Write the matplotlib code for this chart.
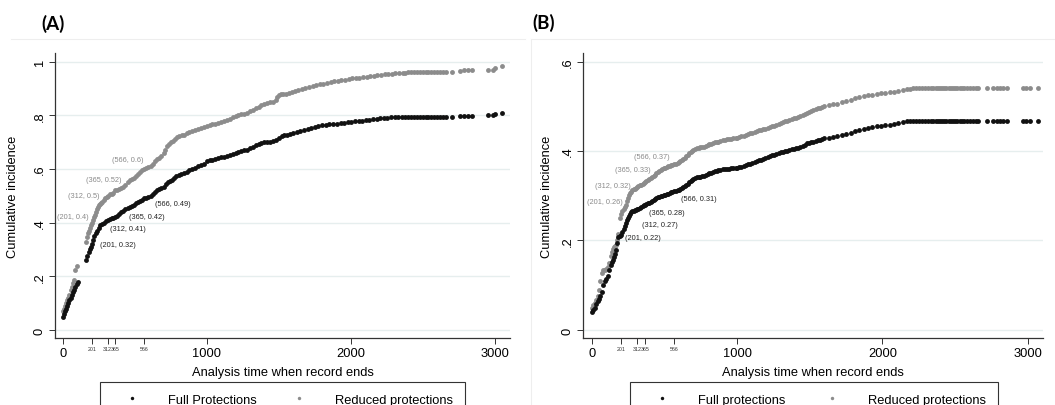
import matplotlib
matplotlib.use("Agg")
import matplotlib.pyplot as plt
from matplotlib.lines import Line2D

plt.rcParams['font.family'] = ['Liberation Sans', 'DejaVu Sans']

# ---- Panel A data ----
a_full_x = [5, 10, 15, 22, 30, 38, 45, 55, 62, 72, 80, 88, 98, 105,
            165, 172, 180, 188, 195, 201, 210, 220, 230, 240, 250, 262, 275, 290, 300, 312,
            325, 340, 352, 365, 378, 392, 405, 420, 435, 450, 465, 480, 495, 510, 525, 540,
            553, 566, 580, 595, 610, 625, 640, 655, 670, 685, 700, 715, 730, 745, 757, 772,
            788, 805, 820, 840, 860, 880, 900, 920, 940, 960, 980, 1000, 1020, 1040, 1060,
            1080, 1100, 1120, 1140, 1160, 1180, 1200, 1220, 1240, 1260, 1280, 1300, 1320,
            1340, 1360, 1380, 1400, 1420, 1440, 1460, 1480, 1500, 1520, 1540, 1560, 1580,
            1600, 1625, 1650, 1675, 1700, 1725, 1750, 1775, 1800, 1825, 1850, 1880, 1905,
            1930, 1955, 1980, 2005, 2030, 2055, 2080, 2105, 2130, 2155, 2180, 2205, 2230,
            2255, 2280, 2305, 2330, 2355, 2380, 2400, 2420, 2440, 2460, 2480, 2500, 2520,
            2540, 2560, 2580, 2600, 2620, 2640, 2660, 2700, 2760, 2790, 2815, 2840,
            2955, 2985, 3000, 3050]
a_full_y = [0.05, 0.06, 0.07, 0.08, 0.09, 0.10, 0.11, 0.12, 0.13, 0.14, 0.15, 0.16, 0.17, 0.18,
            0.262, 0.275, 0.29, 0.30, 0.31, 0.32, 0.335, 0.35, 0.36, 0.37, 0.38, 0.39, 0.395, 0.40, 0.405, 0.41,
            0.413, 0.416, 0.418, 0.42, 0.425, 0.432, 0.44, 0.445, 0.45, 0.455, 0.46, 0.463, 0.467, 0.472, 0.476, 0.48,
            0.485, 0.49, 0.493, 0.497, 0.50, 0.507, 0.515, 0.522, 0.525, 0.528, 0.533, 0.545, 0.552, 0.556, 0.56, 0.566,
            0.572, 0.576, 0.58, 0.586, 0.59, 0.595, 0.60, 0.605, 0.61, 0.615, 0.62, 0.63, 0.632, 0.634, 0.636,
            0.64, 0.643, 0.646, 0.65, 0.653, 0.656, 0.66, 0.663, 0.666, 0.669, 0.672, 0.677, 0.683,
            0.69, 0.694, 0.697, 0.70, 0.701, 0.702, 0.704, 0.708, 0.715, 0.722, 0.726, 0.728, 0.73,
            0.733, 0.737, 0.741, 0.745, 0.749, 0.753, 0.757, 0.76, 0.762, 0.764, 0.766, 0.768, 0.769,
            0.77, 0.772, 0.774, 0.776, 0.777, 0.778, 0.779, 0.781, 0.783, 0.785, 0.787, 0.789, 0.79,
            0.791, 0.792, 0.793, 0.793, 0.794, 0.794, 0.795, 0.795, 0.795, 0.795, 0.795, 0.795, 0.795,
            0.795, 0.795, 0.795, 0.795, 0.795, 0.795, 0.795, 0.795, 0.797, 0.798, 0.798, 0.798,
            0.80, 0.80, 0.803, 0.81]

a_red_x = [5, 10, 15, 22, 30, 38, 45, 55, 62, 70, 80, 88, 97,
           160, 167, 174, 181, 188, 195, 201, 208, 215, 223, 230, 238, 245, 253, 260, 268, 275, 285,
           295, 305, 312, 325, 340, 352, 365, 378, 392, 405, 420, 435, 450, 465, 480, 495, 510,
           525, 540, 553, 566, 580, 595, 610, 625, 640, 655, 670, 685, 700, 712, 725, 738, 750,
           765, 780, 795, 810, 825, 840, 860, 880, 900, 920, 940, 960, 980, 1000, 1020, 1040,
           1060, 1080, 1100, 1120, 1140, 1160, 1180, 1200, 1220, 1240, 1260, 1280, 1300, 1320,
           1340, 1360, 1380, 1400, 1420, 1440, 1460, 1478, 1490, 1500, 1515, 1530, 1550, 1570,
           1590, 1610, 1635, 1660, 1685, 1710, 1735, 1760, 1785, 1810, 1835, 1860, 1885, 1910,
           1935, 1960, 1985, 2010, 2035, 2060, 2085, 2110, 2135, 2160, 2185, 2210, 2235, 2260,
           2285, 2310, 2335, 2360, 2380, 2400, 2420, 2440, 2460, 2480, 2500, 2520, 2540, 2560,
           2580, 2600, 2620, 2640, 2660, 2700, 2760, 2790, 2815, 2840, 2955, 2985, 3000, 3050]
a_red_y = [0.07, 0.08, 0.09, 0.10, 0.11, 0.12, 0.13, 0.15, 0.16, 0.175, 0.185, 0.225, 0.24,
           0.327, 0.345, 0.36, 0.37, 0.38, 0.39, 0.40, 0.41, 0.42, 0.43, 0.44, 0.45, 0.458, 0.465, 0.47, 0.475, 0.478, 0.483,
           0.49, 0.495, 0.50, 0.505, 0.508, 0.512, 0.52, 0.522, 0.526, 0.53, 0.533, 0.54, 0.55, 0.558, 0.563, 0.567, 0.573,
           0.58, 0.588, 0.595, 0.60, 0.603, 0.607, 0.612, 0.62, 0.63, 0.637, 0.642, 0.648, 0.66, 0.672, 0.685, 0.693, 0.70,
           0.706, 0.712, 0.718, 0.722, 0.725, 0.728, 0.733, 0.738, 0.742, 0.746, 0.75, 0.753, 0.757, 0.76, 0.763, 0.766,
           0.769, 0.772, 0.775, 0.778, 0.782, 0.786, 0.792, 0.797, 0.80, 0.803, 0.806, 0.81, 0.815, 0.82,
           0.826, 0.832, 0.838, 0.843, 0.846, 0.848, 0.85, 0.856, 0.868, 0.875, 0.878, 0.879, 0.881, 0.884,
           0.887, 0.89, 0.894, 0.898, 0.902, 0.906, 0.909, 0.912, 0.915, 0.918, 0.922, 0.925, 0.927, 0.929,
           0.931, 0.933, 0.935, 0.937, 0.938, 0.94, 0.942, 0.944, 0.946, 0.948, 0.95, 0.951, 0.952, 0.953,
           0.954, 0.956, 0.957, 0.958, 0.959, 0.96, 0.96, 0.96, 0.96, 0.96, 0.96, 0.96, 0.96, 0.96,
           0.96, 0.96, 0.96, 0.96, 0.96, 0.96, 0.965, 0.967, 0.967, 0.968, 0.968, 0.97, 0.975, 0.983]

a_lab_full = ["(201, 0.32)", "(312, 0.41)", "(365, 0.42)", "(566, 0.49)"]
a_lab_red = ["(201, 0.4)", "(312, 0.5)", "(365, 0.52)", "(566, 0.6)"]
# where the marker labels sit (data units)
a_pos_full = [(384, 0.317), (450, 0.380), (585, 0.421), (766, 0.473)]
a_pos_red = [(72, 0.422), (145, 0.50), (286, 0.559), (453, 0.634)]

# ---- Panel B data ----
b_full_x = [0, 10, 20, 30, 40, 50, 60, 69, 80, 91, 100, 110, 120, 130, 137, 145, 153, 160, 168,
            176, 183, 192, 201, 210, 220, 228, 235, 243, 250, 258, 265, 273, 280, 288, 295, 303,
            312, 321, 330, 340, 350, 358, 365, 375, 385, 395, 405, 415, 425, 435, 445, 455, 465,
            475, 485, 495, 505, 515, 525, 535, 545, 555, 566, 578, 590, 600, 610, 620, 630, 640,
            650, 660, 670, 680, 690, 700, 710, 722, 735, 748, 760, 772, 785, 797, 810, 822, 835,
            848, 860, 872, 885, 900, 917, 930, 945, 960, 975, 990, 1000, 1015, 1030, 1045, 1060,
            1075, 1090, 1105, 1120, 1135, 1150, 1165, 1180, 1195, 1210, 1225, 1240, 1255, 1270,
            1285, 1300, 1315, 1330, 1345, 1360, 1375, 1390, 1405, 1421, 1435, 1450, 1465, 1480,
            1495, 1510, 1525, 1540, 1555, 1570, 1585, 1600, 1630, 1660, 1690, 1720, 1750, 1780,
            1810, 1840, 1870, 1900, 1930, 1960, 1990, 2020, 2050, 2080, 2110, 2140, 2166, 2190,
            2210, 2230, 2250, 2270, 2290, 2310, 2335, 2350, 2365, 2380, 2395, 2410, 2425, 2440,
            2455, 2470, 2485, 2500, 2515, 2530, 2545, 2560, 2580, 2600, 2620, 2640, 2660, 2716,
            2762, 2785, 2808, 2830, 2854, 2968, 2990, 3014, 3071]
b_full_y = [0.04, 0.045, 0.05, 0.057, 0.065, 0.07, 0.075, 0.085, 0.10, 0.11, 0.113, 0.12, 0.135, 0.145, 0.152, 0.157, 0.163, 0.17, 0.178,
            0.195, 0.208, 0.21, 0.212, 0.218, 0.225, 0.232, 0.24, 0.245, 0.25, 0.255, 0.26, 0.263, 0.265, 0.267, 0.268, 0.269,
            0.27, 0.271, 0.272, 0.275, 0.277, 0.279, 0.28, 0.282, 0.283, 0.284, 0.285, 0.288, 0.29, 0.292, 0.295, 0.297, 0.298,
            0.299, 0.30, 0.301, 0.302, 0.303, 0.305, 0.307, 0.308, 0.309, 0.31, 0.311, 0.312, 0.313, 0.315, 0.318, 0.32, 0.322,
            0.325, 0.327, 0.33, 0.332, 0.335, 0.338, 0.34, 0.341, 0.342, 0.343, 0.344, 0.345, 0.346, 0.348, 0.35, 0.351, 0.353,
            0.355, 0.356, 0.357, 0.358, 0.359, 0.36, 0.36, 0.36, 0.361, 0.362, 0.362, 0.363, 0.364, 0.365, 0.366, 0.368,
            0.37, 0.372, 0.374, 0.376, 0.378, 0.38, 0.381, 0.383, 0.385, 0.387, 0.388, 0.39, 0.391, 0.393,
            0.395, 0.397, 0.398, 0.40, 0.401, 0.403, 0.404, 0.405, 0.406, 0.407, 0.41, 0.412, 0.414, 0.417,
            0.418, 0.42, 0.421, 0.423, 0.424, 0.425, 0.427, 0.428, 0.43, 0.431, 0.433, 0.436, 0.438, 0.441,
            0.444, 0.447, 0.45, 0.451, 0.453, 0.455, 0.456, 0.458, 0.459, 0.461, 0.463, 0.465, 0.466, 0.466,
            0.466, 0.466, 0.466, 0.466, 0.466, 0.466, 0.466, 0.466, 0.466, 0.466, 0.466, 0.466, 0.466, 0.466,
            0.466, 0.466, 0.466, 0.466, 0.466, 0.466, 0.466, 0.466, 0.466, 0.466, 0.466, 0.466, 0.466, 0.466,
            0.466, 0.466, 0.466, 0.466, 0.466, 0.466, 0.466, 0.466, 0.466]

b_red_x = b_full_x
b_red_y = [0.05, 0.055, 0.06, 0.068, 0.075, 0.09, 0.11, 0.128, 0.133, 0.135, 0.137, 0.14, 0.15, 0.165, 0.174, 0.18, 0.185, 0.188, 0.19,
           0.20, 0.215, 0.25, 0.26, 0.265, 0.27, 0.275, 0.28, 0.288, 0.295, 0.302, 0.306, 0.309, 0.312, 0.314, 0.316, 0.318,
           0.32, 0.321, 0.323, 0.325, 0.327, 0.329, 0.33, 0.333, 0.335, 0.337, 0.34, 0.342, 0.345, 0.347, 0.35, 0.352, 0.355,
           0.357, 0.36, 0.361, 0.363, 0.365, 0.366, 0.367, 0.368, 0.369, 0.37, 0.372, 0.374, 0.376, 0.378, 0.38, 0.383, 0.385,
           0.388, 0.391, 0.395, 0.398, 0.40, 0.402, 0.405, 0.406, 0.407, 0.408, 0.409, 0.41, 0.412, 0.413, 0.415, 0.416, 0.418,
           0.419, 0.42, 0.421, 0.423, 0.424, 0.425, 0.426, 0.427, 0.427, 0.428, 0.429, 0.43, 0.431, 0.433, 0.434, 0.436,
           0.438, 0.44, 0.441, 0.443, 0.444, 0.446, 0.447, 0.449, 0.45, 0.452, 0.453, 0.455, 0.456, 0.458,
           0.46, 0.462, 0.464, 0.466, 0.468, 0.47, 0.471, 0.473, 0.474, 0.476, 0.478, 0.48, 0.482, 0.485,
           0.487, 0.49, 0.492, 0.494, 0.495, 0.497, 0.498, 0.50, 0.502, 0.504, 0.506, 0.509, 0.512, 0.515,
           0.518, 0.521, 0.523, 0.525, 0.526, 0.528, 0.529, 0.53, 0.531, 0.532, 0.534, 0.536, 0.538, 0.539,
           0.54, 0.54, 0.54, 0.54, 0.54, 0.54, 0.54, 0.54, 0.54, 0.54, 0.54, 0.54, 0.54, 0.54,
           0.54, 0.54, 0.54, 0.54, 0.54, 0.54, 0.54, 0.54, 0.54, 0.54, 0.54, 0.54, 0.54, 0.54,
           0.54, 0.54, 0.54, 0.54, 0.54, 0.54, 0.54, 0.54, 0.54]

b_lab_full = ["(201, 0.22)", "(312, 0.27)", "(365, 0.28)", "(566, 0.31)"]
b_lab_red = ["(201, 0.26)", "(312, 0.32)", "(365, 0.33)", "(566, 0.37)"]
b_pos_full = [(355, 0.206), (466, 0.235), (518, 0.262), (738, 0.294)]
b_pos_red = [(93, 0.287), (145, 0.324), (283, 0.358), (416, 0.388)]

major_x = [0, 1000, 2000, 3000]
minor_x = [201, 312, 365, 566]
a_yticks = [0, 0.2, 0.4, 0.6, 0.8, 1.0]
a_ylabels = ["0", ".2", ".4", ".6", ".8", "1"]
b_yticks = [0, 0.2, 0.4, 0.6]
b_ylabels = ["0", ".2", ".4", ".6"]

BLACK = '#111111'
GREY = '#8c8c8c'
GRID = '#e6eeee'

W, H = 1055, 406
fig = plt.figure(figsize=(W / 100, H / 100), dpi=100)

# faint graph-region outlines (top edges, left edge of panel B)
fig.add_artist(Line2D([11 / W, 525 / W], [1 - 40 / H, 1 - 40 / H], transform=fig.transFigure,
                      color='#eeeeee', lw=0.8))
fig.add_artist(Line2D([531 / W, 1055 / W], [1 - 40 / H, 1 - 40 / H], transform=fig.transFigure,
                      color='#eeeeee', lw=0.8))
fig.add_artist(Line2D([531 / W, 531 / W], [1 - 40 / H, 0], transform=fig.transFigure,
                      color='#eeeeee', lw=0.8))


def panel(rect, fx, fy, rx, ry, lab_f, pos_f, lab_r, pos_r, xlim, ylim, yt, ytl,
          ylab_x, leg_names, leg_box, title, title_xy):
    ax = fig.add_axes(rect)
    ax.set_xlim(*xlim)
    ax.set_ylim(*ylim)
    for yy in yt:
        ax.axhline(yy, color=GRID, lw=1.0, zorder=0)
    h1, = ax.plot(fx, fy, 'o', color=BLACK, ms=3.5, mew=0, zorder=3)
    h2, = ax.plot(rx, ry, 'o', color=GREY, ms=3.5, mew=0, zorder=2)
    for s, (x, y) in zip(lab_f, pos_f):
        ax.text(x, y, s, fontsize=5.3, color='#222222', ha='center', va='center')
    for s, (x, y) in zip(lab_r, pos_r):
        ax.text(x, y, s, fontsize=5.3, color='#8a8a8a', ha='center', va='center')

    for side in ['top', 'right']:
        ax.spines[side].set_visible(False)
    for side in ['left', 'bottom']:
        ax.spines[side].set_color('#333333')
        ax.spines[side].set_linewidth(0.9)

    ax.set_xticks(major_x)
    ax.set_xticklabels([str(v) for v in major_x], fontsize=9.3)
    ax.set_xticks(minor_x, minor=True)
    ax.set_xticklabels([str(v) for v in minor_x], minor=True, fontsize=3.8, color='#333333')
    ax.tick_params(axis='x', which='both', length=4.5, width=0.7, color='#333333', pad=2)
    ax.tick_params(axis='x', which='minor', pad=1.5)
    ax.set_yticks(yt)
    ax.set_yticklabels(ytl, fontsize=9.3, rotation=90, va='center')
    ax.tick_params(axis='y', length=4.5, width=0.7, color='#333333', pad=2)

    ax.set_xlabel('Analysis time when record ends', fontsize=9.3)
    ax.xaxis.set_label_coords(0.5, -0.1)
    ax.set_ylabel('Cumulative incidence', fontsize=9.3)
    ax.yaxis.set_label_coords(ylab_x, 0.5)

    x0, w = leg_box
    leg = fig.legend([h1, h2], leg_names, loc='upper left', ncol=2, mode='expand',
                     bbox_to_anchor=(x0 / W, (H - 383) / H, w / W, 0.0), bbox_transform=fig.transFigure,
                     fontsize=9.3, frameon=True, fancybox=False, edgecolor='#333333', framealpha=1,
                     handlelength=3.2, handletextpad=1.2, borderpad=0.9, borderaxespad=0,
                     markerscale=0.7)
    leg.get_frame().set_linewidth(0.8)

    fig.text(title_xy[0] / W, 1 - title_xy[1] / H, title, fontsize=13.5, fontweight='bold',
             family=['Lato', 'DejaVu Sans'], ha='center', va='center')
    return ax


panel([55 / W, 67 / H, 455 / W, 285 / H], a_full_x, a_full_y, a_red_x, a_red_y,
      a_lab_full, a_pos_full, a_lab_red, a_pos_red,
      (-53.5, 3106), (-0.0298, 1.032), a_yticks, a_ylabels, -0.08,
      ['Full Protections', 'Reduced protections'], (100, 365), '(A)', (53, 24))

panel([583 / W, 67 / H, 460 / W, 285 / H], b_full_x, b_full_y, b_red_x, b_red_y,
      b_lab_full, b_pos_full, b_lab_red, b_pos_red,
      (-60, 3104), (-0.0179, 0.619), b_yticks, b_ylabels, -0.065,
      ['Full protections', 'Reduced protections'], (630, 368), '(B)', (544, 23))

fig.savefig('out.png', dpi=100, facecolor='white')
